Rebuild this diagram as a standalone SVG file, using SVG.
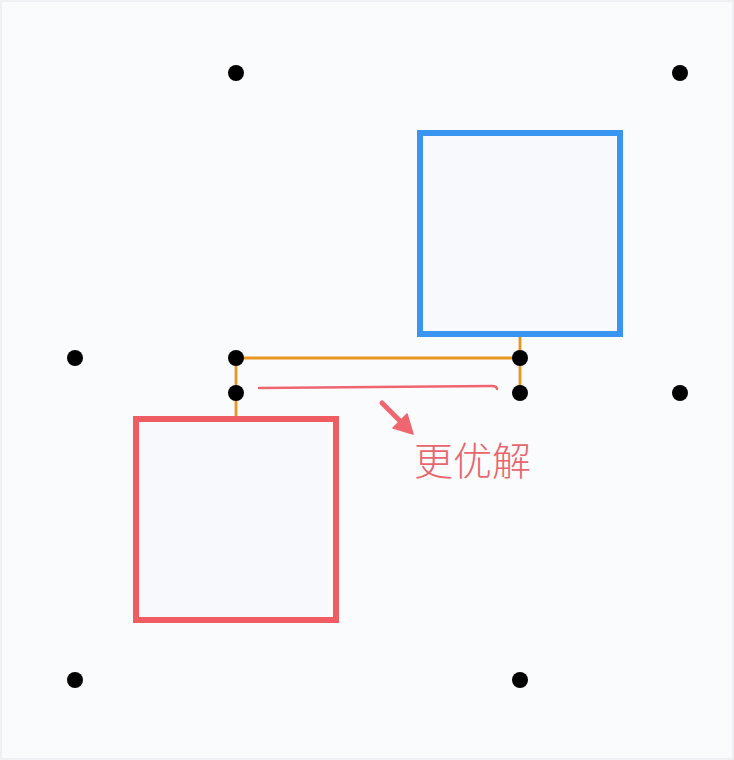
<svg xmlns="http://www.w3.org/2000/svg" width="734" height="760" viewBox="0 0 734 760">
<defs>
<style>
.dot{fill:#000}
.box{fill:#f8f9fc;stroke-width:6}
.conn{stroke:#e8961e;stroke-width:2.8;fill:none}
.mark{stroke:#ef6670;fill:none;stroke-linecap:round}
.lbl{font-family:"Noto Sans CJK SC","Noto Sans",sans-serif;font-size:39px;font-weight:300;fill:#e8656e}
</style>
</defs>
<rect x="0" y="0" width="734" height="760" fill="#fafbfd"/>
<rect x="1" y="1" width="732" height="758" fill="none" stroke="#eef0f4" stroke-width="2"/>
<g id="connectors">
<line class="conn" x1="236" y1="358" x2="520" y2="358"/>
<line class="conn" x1="236" y1="358" x2="236" y2="418"/>
<line class="conn" x1="520" y1="334" x2="520" y2="393"/>
<path class="mark" stroke-width="2.5" d="M259,388 L492,386 Q497,386 497,389"/>
<line class="mark" stroke-width="5" x1="382" y1="403" x2="402" y2="423"/>
<path d="M413,434 L407,414 L393,428 Z" fill="#ef6670" stroke="#ef6670" stroke-width="1.5" stroke-linejoin="round"/>
</g>
<g id="blue-box"><rect class="box" x="420" y="133" width="200" height="201" stroke="#3a95f0"/></g>
<g id="red-box"><rect class="box" x="136" y="419" width="200" height="201" stroke="#ef5d63"/></g>
<g id="dots">
<circle class="dot" cx="236" cy="73" r="8"/>
<circle class="dot" cx="680" cy="73" r="8"/>
<circle class="dot" cx="75" cy="358" r="8"/>
<circle class="dot" cx="236" cy="358" r="8"/>
<circle class="dot" cx="520" cy="358" r="8"/>
<circle class="dot" cx="236" cy="393" r="8"/>
<circle class="dot" cx="520" cy="393" r="8"/>
<circle class="dot" cx="680" cy="393" r="8"/>
<circle class="dot" cx="75" cy="680" r="8"/>
<circle class="dot" cx="520" cy="680" r="8"/>
</g>
<g id="label"><text class="lbl" x="414" y="475">更优解</text></g>
</svg>
